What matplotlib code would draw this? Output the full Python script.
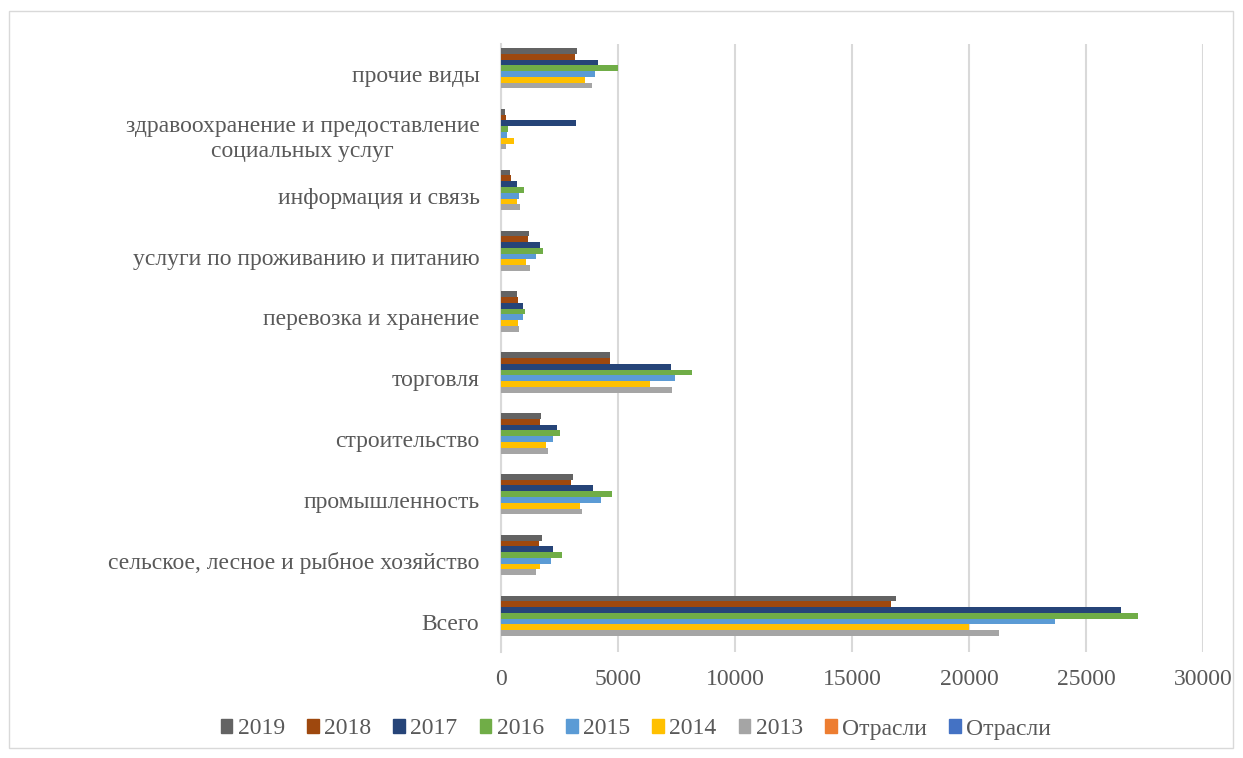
import matplotlib
matplotlib.use("Agg")
import matplotlib.pyplot as plt
from matplotlib.patches import Patch, Rectangle
import numpy as np

categories = ["Всего",
              "сельское, лесное и рыбное хозяйство",
              "промышленность",
              "строительство",
              "торговля",
              "перевозка и хранение",
              "услуги по проживанию и питанию",
              "информация и связь",
              "здравоохранение и предоставление\nсоциальных услуг",
              "прочие виды"]

years = ["2013", "2014", "2015", "2016", "2017", "2018", "2019"]

v2013 = [21290, 1480, 3470, 2020, 7316, 755, 1250, 797, 213, 3900]
v2014 = [19990, 1650, 3360, 1920, 6360, 712, 1050, 697, 555, 3600]
v2015 = [23670, 2135, 4270, 2220, 7430, 940, 1495, 783, 270, 4030]
v2016 = [27220, 2605, 4754, 2519, 8142, 1038, 1807, 982, 310, 5000]
v2017 = [26480, 2206, 3914, 2377, 7272, 953, 1665, 670, 3220, 4140]
v2018 = [16660, 1622, 2989, 1652, 4640, 740, 1150, 427, 200, 3145]
v2019 = [16870, 1765, 3060, 1708, 4668, 670, 1180, 385, 170, 3230]

series = [v2013, v2014, v2015, v2016, v2017, v2018, v2019]
colors = ["#A5A5A5", "#FFC000", "#5B9BD5", "#70AD47", "#264478", "#9E480E", "#636363"]
# two empty series (no values) present in the source chart
extra_labels = ["Отрасли", "Отрасли"]
extra_colors = ["#ED7D31", "#4472C4"]

plt.rcParams['font.family'] = ['Liberation Serif', 'DejaVu Serif']
txt = "#595959"
fs = 17

fig = plt.figure(figsize=(12.43, 7.58), dpi=100)
ax = fig.add_axes([501/1243, 1-652/758, (1203-501)/1243, (652-43.6)/758])

h = 0.095
nslots = len(series) + len(extra_labels)
y = np.arange(len(categories))
for j, (vals, c) in enumerate(zip(series, colors)):
    slot = j + len(extra_labels)
    ax.barh(y + (slot - (nslots - 1) / 2) * h, vals, height=h, color=c, zorder=3)

ax.set_xlim(0, 30000)
ax.set_ylim(-0.5, len(categories) - 0.5)
ax.set_xticks(np.arange(0, 30001, 5000))
ax.set_yticks(y)
ax.set_yticklabels(categories)
for lab in ax.get_yticklabels():
    lab.set_multialignment('center')
ax.tick_params(axis='both', length=0, labelsize=fs, colors=txt)
ax.tick_params(axis='y', pad=15.5)
ax.tick_params(axis='x', pad=12)
ax.grid(axis='x', color='#D9D9D9', linewidth=1.5, zorder=0)
for s in ['top', 'right', 'bottom']:
    ax.spines[s].set_visible(False)
ax.spines['left'].set_color('#D9D9D9')
ax.spines['left'].set_linewidth(1.5)

handles = [Patch(color=c, label=yv) for yv, c in zip(years[::-1], colors[::-1])]
handles += [Patch(color=c, label=l) for l, c in zip(extra_labels, extra_colors)]
fig.legend(handles=handles, loc='center', bbox_to_anchor=(636/1243, 1-729/758),
           ncol=9, frameon=False, fontsize=fs, handlelength=0.49, handleheight=0.49,
           handletextpad=0.23, columnspacing=0.94, labelcolor=txt,
           borderpad=0, borderaxespad=0)

fig.patches.append(Rectangle((9/1243, 1-748/758), (1233-9)/1243, (748-11)/758,
                             transform=fig.transFigure, fill=False,
                             edgecolor='#D9D9D9', linewidth=1))

fig.savefig("out.png", dpi=100)
